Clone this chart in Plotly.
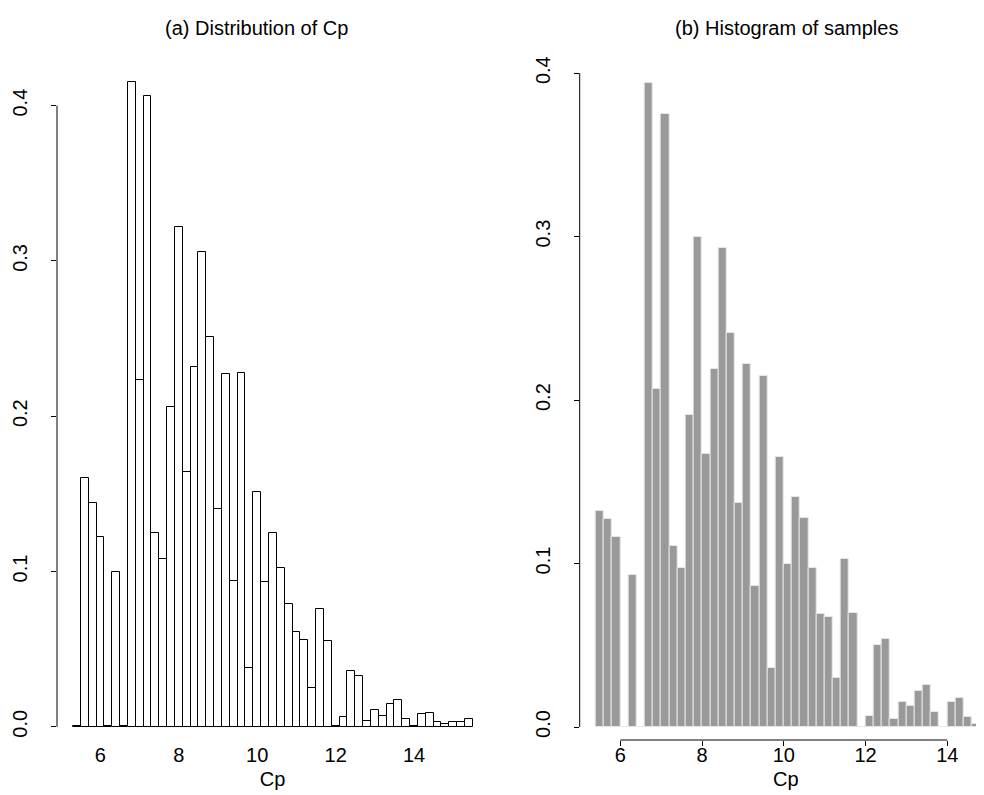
import plotly.graph_objects as go

# ---------------- data ----------------
# (a) Distribution of Cp : bin centres (width 0.2) and probability density
cp_a = [5.4, 5.6, 5.8, 6.0, 6.2, 6.4, 6.6, 6.8, 7.0, 7.2,
        7.4, 7.6, 7.8, 8.0, 8.2, 8.4, 8.6, 8.8, 9.0, 9.2,
        9.4, 9.6, 9.8, 10.0, 10.2, 10.4, 10.6, 10.8, 11.0, 11.2,
        11.4, 11.6, 11.8, 12.0, 12.2, 12.4, 12.6, 12.8, 13.0, 13.2,
        13.4, 13.6, 13.8, 14.0, 14.2, 14.4, 14.6, 14.8, 15.0, 15.2,
        15.4]
dens_a = [0.0005, 0.160, 0.144, 0.122, 0.0005, 0.100, 0.0005, 0.415, 0.223, 0.406,
          0.125, 0.108, 0.206, 0.322, 0.164, 0.232, 0.306, 0.251, 0.140, 0.227,
          0.094, 0.228, 0.038, 0.151, 0.093, 0.125, 0.102, 0.079, 0.061, 0.056,
          0.025, 0.076, 0.055, 0.0005, 0.006, 0.036, 0.033, 0.004, 0.011, 0.007,
          0.015, 0.017, 0.005, 0.0005, 0.008, 0.009, 0.003, 0.002, 0.003, 0.003,
          0.005]

# (b) Histogram of samples : bin centres (width 0.2) and density
cp_b = [5.5, 5.7, 5.9, 6.1, 6.3, 6.5, 6.7, 6.9, 7.1, 7.3,
        7.5, 7.7, 7.9, 8.1, 8.3, 8.5, 8.7, 8.9, 9.1, 9.3,
        9.5, 9.7, 9.9, 10.1, 10.3, 10.5, 10.7, 10.9, 11.1, 11.3,
        11.5, 11.7, 11.9, 12.1, 12.3, 12.5, 12.7, 12.9, 13.1, 13.3,
        13.5, 13.7, 13.9, 14.1, 14.3, 14.5, 14.7, 14.9, 15.1]
dens_b = [0.132, 0.127, 0.116, 0.0003, 0.093, 0.0003, 0.394, 0.207, 0.375, 0.111,
          0.097, 0.191, 0.300, 0.167, 0.219, 0.293, 0.241, 0.137, 0.222, 0.086,
          0.215, 0.036, 0.165, 0.100, 0.141, 0.128, 0.097, 0.069, 0.067, 0.030,
          0.103, 0.070, 0.0003, 0.007, 0.050, 0.054, 0.005, 0.015, 0.013, 0.022,
          0.026, 0.009, 0.0003, 0.015, 0.018, 0.006, 0.002, 0.009, 0.005]

x_ticks = [6, 8, 10, 12, 14]
y_ticks = [0.0, 0.1, 0.2, 0.3, 0.4]
y_tick_text = ["0.0", "0.1", "0.2", "0.3", "0.4"]
titles = ["(a) Distribution of Cp", "(b) Histogram of samples"]
x_label = "Cp"

# ---------------- figure ----------------
FONT = "Liberation Sans, Arial, Helvetica, sans-serif"
FS = 20
W, H = 984, 795
ML, MR, MT, MB = 49, 0, 40, 63
PW = W - ML - MR
PH = H - MT - MB

fig = go.Figure()
fig.add_trace(go.Bar(x=cp_a, y=dens_a, width=0.2, xaxis="x", yaxis="y",
                     marker=dict(color="white", line=dict(color="black", width=1)),
                     showlegend=False))
fig.add_trace(go.Bar(x=cp_b, y=dens_b, width=0.2, xaxis="x2", yaxis="y2",
                     marker=dict(color="#999999", line=dict(color="#e6e6e6", width=1)),
                     showlegend=False))

dom_a = [0, (480 - ML) / PW]
dom_b = [(571.7 - ML) / PW, 1]

tickfont = dict(family=FONT, size=FS, color="black")
common_x = dict(tickvals=x_ticks, ticks="outside", ticklen=5, showgrid=False,
                zeroline=False, showline=False, tickfont=tickfont,
                ticklabelstandoff=-8,
                title=dict(text=x_label, font=dict(family=FONT, size=FS, color="black"),
                           standoff=6))
common_y = dict(tickvals=y_ticks, ticktext=y_tick_text, ticks="outside", ticklen=5,
                tickcolor="black", showgrid=False, zeroline=False, showline=False,
                tickangle=-90, tickfont=tickfont, ticklabelstandoff=16)

fig.update_layout(
    width=W, height=H,
    margin=dict(l=ML, r=MR, t=MT, b=MB),
    paper_bgcolor="white", plot_bgcolor="white",
    bargap=0, barmode="overlay",
    font=dict(family=FONT, size=FS, color="black"),
    xaxis=dict(domain=dom_a, range=[4.892, 15.887], tickcolor="rgba(0,0,0,0)", **common_x),
    yaxis=dict(range=[-0.0085, 0.4371], anchor="x", **common_y),
    xaxis2=dict(domain=dom_b, range=[5.0067, 15.094], anchor="y2", tickcolor="black", **common_x),
    yaxis2=dict(range=[-0.00795, 0.4154], anchor="x2", **common_y),
)

# R-style axis lines spanning only first..last tick
shapes = [
    dict(type="line", xref="x domain", yref="y", x0=0, x1=0, y0=0, y1=0.4,
         line=dict(color="black", width=1)),
    dict(type="line", xref="x2 domain", yref="y2", x0=0, x1=0, y0=0, y1=0.4,
         line=dict(color="black", width=1)),
    dict(type="line", xref="x2", yref="y2 domain", x0=6, x1=14, y0=0, y1=0,
         line=dict(color="black", width=1)),
]
fig.update_layout(shapes=shapes)

for txt, cx in zip(titles, [248, 778]):
    fig.add_annotation(text=txt, xref="paper", yref="paper",
                       x=(cx - ML) / PW, y=1 + (MT - 20) / PH,
                       showarrow=False, xanchor="center", yanchor="middle",
                       font=dict(family=FONT, size=FS, color="black"))

fig.write_html("out.html")
